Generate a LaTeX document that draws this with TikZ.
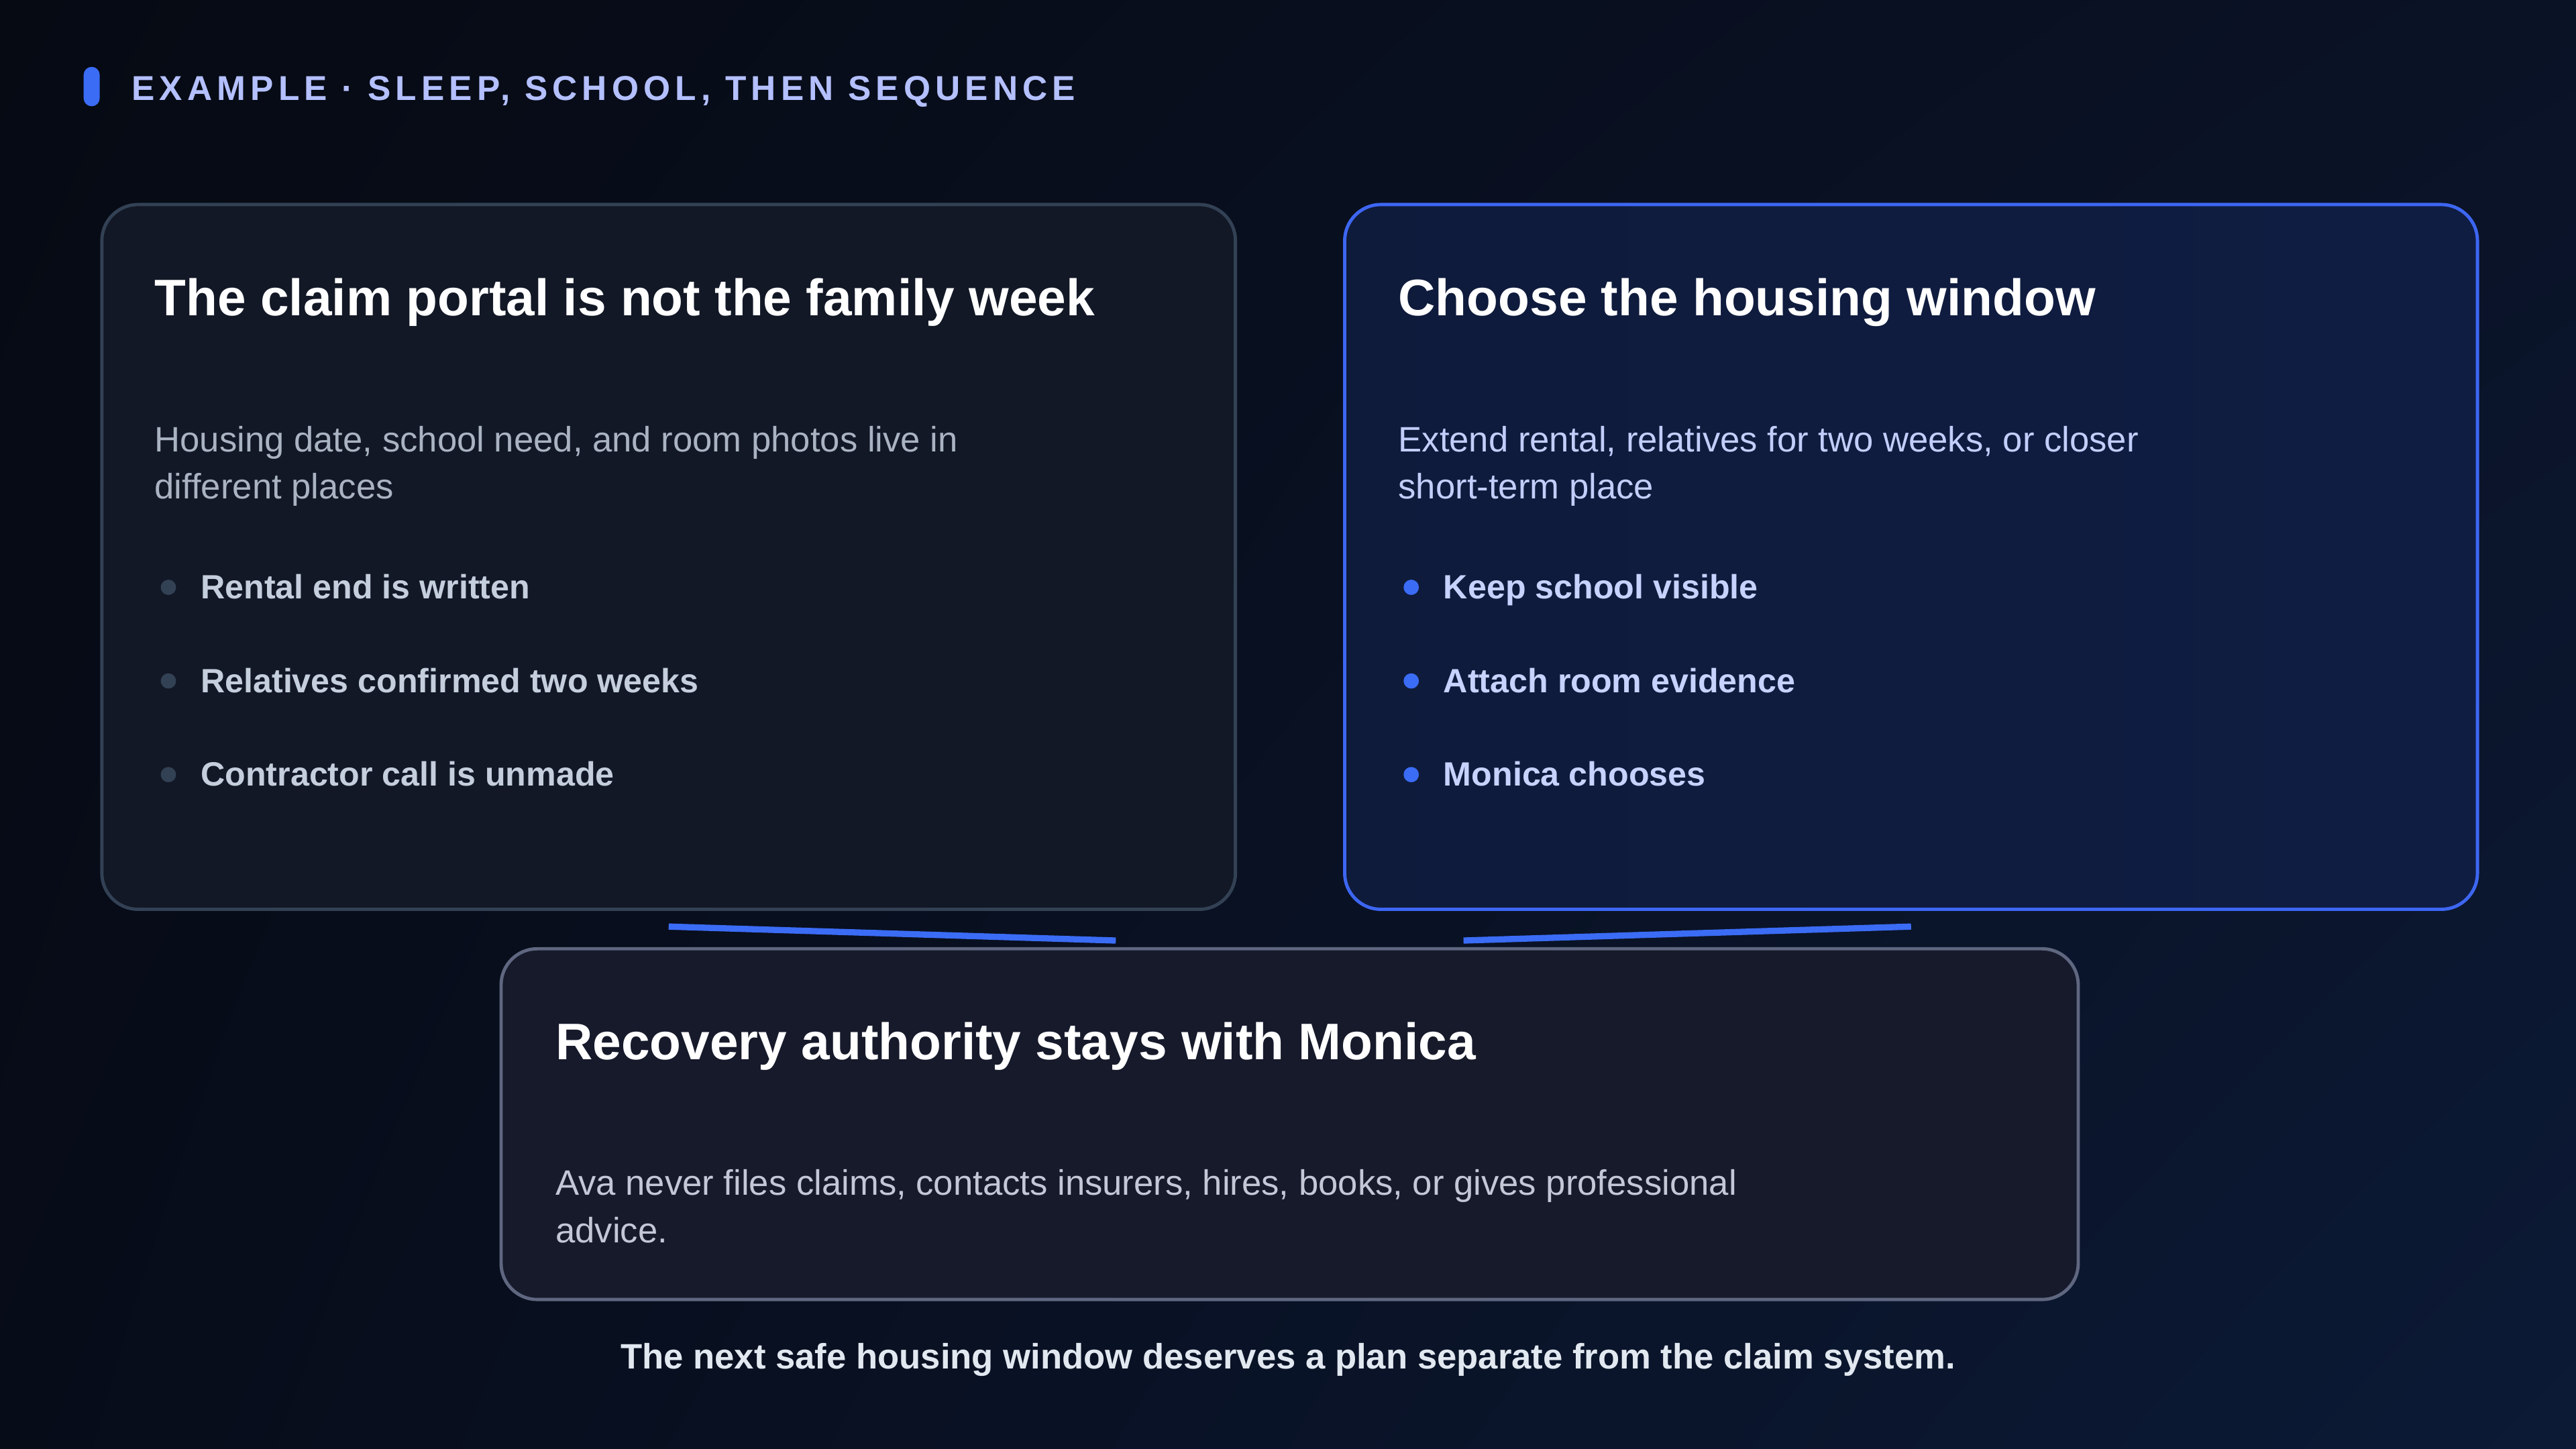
\documentclass[tikz,border=0pt]{standalone}
\usepackage{fontspec}
\setmainfont{Liberation Sans}
\newfontfamily\trackfont[LetterSpace=14]{Liberation Sans}
\usetikzlibrary{calc,shadings}
\definecolor{bgTL}{HTML}{060A13}
\definecolor{bgTR}{HTML}{0A1226}
\definecolor{bgBL}{HTML}{070C19}
\definecolor{bgBR}{HTML}{0C1A36}
\definecolor{accent}{HTML}{3B6CF6}
\definecolor{headtxt}{HTML}{B4C0FF}
\definecolor{cardAfill}{HTML}{121826}
\definecolor{cardAline}{HTML}{334155}
\definecolor{cardBfillL}{HTML}{0F1B3B}
\definecolor{cardBfillR}{HTML}{0F1D43}
\definecolor{cardBline}{HTML}{3D66F2}
\definecolor{cardCfill}{HTML}{161A2B}
\definecolor{cardCline}{HTML}{5F6780}
\definecolor{bodyA}{HTML}{AAB3C2}
\definecolor{bulletA}{HTML}{C5CEDD}
\definecolor{dotA}{HTML}{334155}
\definecolor{bodyB}{HTML}{C2CEFA}
\definecolor{bulletB}{HTML}{C7D2FE}
\definecolor{bodyC}{HTML}{C3C7D6}
\definecolor{foottxt}{HTML}{E2E8F0}
\begin{document}
\begin{tikzpicture}[x=1pt,y=-1pt,
  cardbox/.style={rectangle, rounded corners=22pt, line width=2pt, inner sep=0pt, anchor=north west},
  cardA/.style={cardbox, draw=cardAline, fill=cardAfill, minimum width=690pt, minimum height=429pt},
  cardB/.style={cardbox, draw=cardBline, left color=cardBfillL, right color=cardBfillR, minimum width=689.5pt, minimum height=429pt},
  cardC/.style={cardbox, draw=cardCline, fill=cardCfill, minimum width=960pt, minimum height=213.5pt},
  titletxt/.style={anchor=base west, inner sep=0pt, text=white, font=\bfseries\fontsize{31.3}{37}\selectfont},
  bodytxt/.style={anchor=base west, inner sep=0pt, align=left, font=\fontsize{21.5}{28.8}\selectfont},
  bullettxt/.style={anchor=base west, inner sep=0pt, font=\bfseries\fontsize{20.5}{24}\selectfont},
  dot/.style={circle, inner sep=0pt, minimum size=9.3pt},
  link/.style={draw=accent, line width=3.8pt}
]
\useasboundingbox (0,0) rectangle (1568,882);
\shade[upper left=bgTL, upper right=bgTR, lower left=bgBL, lower right=bgBR] (0,0) rectangle (1568,882);

% header
\node[fill=accent, rounded corners=4.9pt, minimum width=9.8pt, minimum height=24pt, inner sep=0pt] (pill) at (55.8,52.7) {};
\node[anchor=base west, inner sep=0pt, text=headtxt, font=\trackfont\bfseries\fontsize{21}{25}\selectfont] (head) at (80,61) {EXAMPLE · SLEEP, SCHOOL, THEN SEQUENCE};

% cards
\node[cardA] (c1) at (61,123.5) {};
\node[cardB] (c2) at (817.5,123.5) {};
\node[cardC] (c3) at (304,576.5) {};

% card 1
\node[titletxt] (t1) at ($(c1.north west)+(33,68.5)$) {The claim portal is not the family week};
\node[bodytxt, text=bodyA] (b1) at ($(c1.north west)+(33,180.3)$) {Housing date, school need, and room photos live in\\different places};
\node[dot, fill=dotA] (d11) at ($(c1.north west)+(41.5,234)$) {};
\node[dot, fill=dotA] (d12) at ($(c1.north west)+(41.5,291)$) {};
\node[dot, fill=dotA] (d13) at ($(c1.north west)+(41.5,348)$) {};
\node[bullettxt, text=bulletA] (l11) at ($(c1.north west)+(61,241)$) {Rental end is written};
\node[bullettxt, text=bulletA] (l12) at ($(c1.north west)+(61,298)$) {Relatives confirmed two weeks};
\node[bullettxt, text=bulletA] (l13) at ($(c1.north west)+(61,355)$) {Contractor call is unmade};

% card 2
\node[titletxt] (t2) at ($(c2.north west)+(33.5,68.5)$) {Choose the housing window};
\node[bodytxt, text=bodyB] (b2) at ($(c2.north west)+(33.5,180.3)$) {Extend rental, relatives for two weeks, or closer\\short-term place};
\node[dot, fill=accent] (d21) at ($(c2.north west)+(41.5,234)$) {};
\node[dot, fill=accent] (d22) at ($(c2.north west)+(41.5,291)$) {};
\node[dot, fill=accent] (d23) at ($(c2.north west)+(41.5,348)$) {};
\node[bullettxt, text=bulletB] (l21) at ($(c2.north west)+(61,241)$) {Keep school visible};
\node[bullettxt, text=bulletB] (l22) at ($(c2.north west)+(61,298)$) {Attach room evidence};
\node[bullettxt, text=bulletB] (l23) at ($(c2.north west)+(61,355)$) {Monica chooses};

% card 3
\node[titletxt] (t3) at ($(c3.north west)+(34,68.5)$) {Recovery authority stays with Monica};
\node[bodytxt, text=bodyC] (b3) at ($(c3.north west)+(34,179.8)$) {Ava never files claims, contacts insurers, hires, books, or gives professional\\advice.};

% connectors
\coordinate (k1a) at ($(c1.south)+(0,9.5)$);
\coordinate (k1b) at ($(c3.north west)!0.39!(c3.north east)+(0,-4)$);
\coordinate (k2a) at ($(c3.north west)!0.61!(c3.north east)+(0,-4)$);
\coordinate (k2b) at ($(c2.south)+(0,9.5)$);
\draw[link] (k1a) -- (k1b);
\draw[link] (k2a) -- (k2b);

% footer
\node[anchor=base, inner sep=0pt, text=foottxt, font=\bfseries\fontsize{21.5}{26}\selectfont] (foot) at (784,833) {The next safe housing window deserves a plan separate from the claim system.};
\end{tikzpicture}
\end{document}
